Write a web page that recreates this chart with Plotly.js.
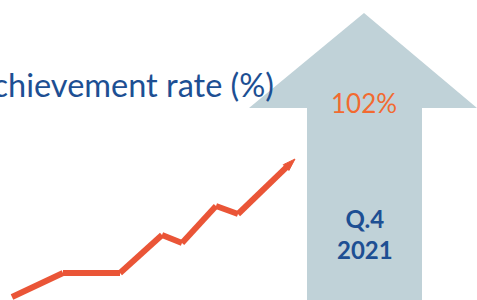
<!DOCTYPE html>
<html><head><meta charset="utf-8">
<script src="https://cdn.plot.ly/plotly-3.0.1.min.js"></script>
<style>html,body{margin:0;padding:0;background:#fff;}#chart{width:477px;height:300px;}</style>
</head><body><div id="chart"></div>
<script>
// Trend line (index units on a 477 x 300 canvas-like scale)
const trendX = [12, 63, 120, 162, 182, 216, 238, 295];
const trendY = [3, 27, 27, 65, 57, 94, 86, 141];
// Big up-arrow outline
const arrowX = [364, 477, 422, 422, 307, 307, 249, 364];
const arrowY = [287, 192, 192, 0, 0, 192, 192, 287];
const titleText = "Achievement rate (%)";
const valueLabel = "102%";
const periodLabel = "Q.4<br>2021";

const lineColor = "#ea5537";
const blue = "#1d4f93";

const traces = [
  {x: arrowX, y: arrowY, type: "scatter", mode: "lines", fill: "toself",
   fillcolor: "#c0d2d8", line: {width: 0, color: "#c0d2d8"}, hoverinfo: "skip"},
  {x: trendX, y: trendY, type: "scatter", mode: "lines+markers",
   line: {color: lineColor, width: 6, shape: "linear"},
   marker: {symbol: "arrow", angleref: "previous", color: lineColor, opacity: 1,
            line: {width: 1, color: lineColor},
            size: trendX.map((v, i) => i === trendX.length - 1 ? 13 : 0)},
   hoverinfo: "skip"}
];

const layout = {
  width: 477, height: 300,
  margin: {l: 0, r: 0, t: 0, b: 0, pad: 0},
  paper_bgcolor: "#ffffff", plot_bgcolor: "#ffffff",
  showlegend: false,
  xaxis: {range: [0, 477], visible: false, fixedrange: true},
  yaxis: {range: [0, 300], visible: false, fixedrange: true},
  annotations: [
    {x: 276, y: 216, xref: "x", yref: "y", xanchor: "right", yanchor: "middle",
     text: titleText, showarrow: false,
     font: {family: "Lato, sans-serif", size: 32.5, color: blue}},
    {x: 364, y: 197, xref: "x", yref: "y", xanchor: "center", yanchor: "middle",
     text: valueLabel, showarrow: false,
     font: {family: "Lato, sans-serif", size: 26, color: "#f26a30"}},
    {x: 365, y: 66, xref: "x", yref: "y", xanchor: "center", yanchor: "middle",
     text: periodLabel, showarrow: false,
     font: {family: "Lato, sans-serif", size: 24, color: blue, weight: "bold"}}
  ]
};
Plotly.newPlot("chart", traces, layout, {displayModeBar: false, staticPlot: true});
</script></body></html>
